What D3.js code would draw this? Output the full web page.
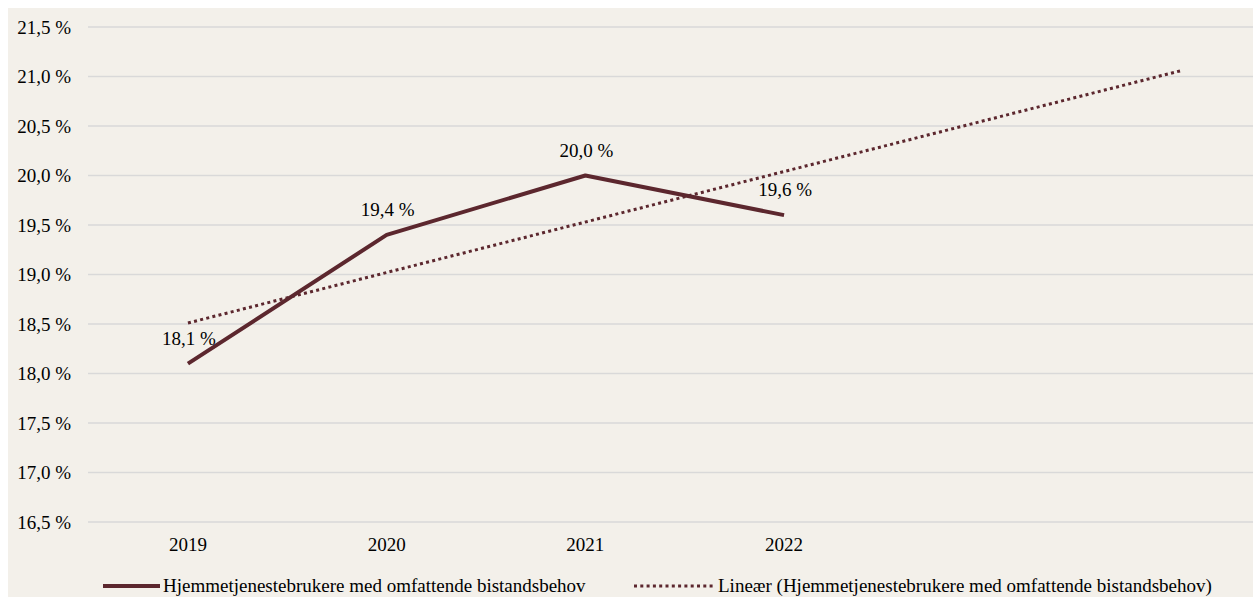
<!DOCTYPE html>
<html>
<head>
<meta charset="utf-8">
<script src="https://cdn.jsdelivr.net/npm/d3@7"></script>
<style>
  html, body { margin: 0; padding: 0; background: #fff; }
  svg { display: block; }
  text { font-family: "Liberation Serif", "Times New Roman", serif; fill: #000; }
</style>
</head>
<body>
<div id="chart"></div>
<script>
"use strict";

// --- data ---
const categories = ["2019", "2020", "2021", "2022", "2023", "2024"]
const tickLabels = ["2019", "2020", "2021", "2022", "", ""]
const seriesName = "Hjemmetjenestebrukere med omfattende bistandsbehov"
const seriesYears = ["2019", "2020", "2021", "2022"]
const seriesValues = [18.1, 19.4, 20.0, 19.6]
// linear trend (forecast 2 periods forward), endpoints
const trendYears = ["2019", "2024"]
const trendValues = [18.51, 21.06]
const yTicks = [16.5, 17.0, 17.5, 18.0, 18.5, 19.0, 19.5, 20.0, 20.5, 21.0, 21.5]

const W = 1253, H = 597
const color = "#5c272e"
const serif = "'Liberation Serif', 'Times New Roman', serif"
const fmt = v => d3.format(".1f")(v).replace(".", ",") + " %"

const svg = d3.select("#chart").append("svg")
    .attr("width", W)
    .attr("height", H)

svg.append("rect")
    .attr("x", 8).attr("y", 8)
    .attr("width", W - 8).attr("height", H - 8)
    .attr("fill", "#f3f0ea")

// plot area (extends past the right edge, like the cropped original)
const x = d3.scaleBand()
    .domain(categories)
    .range([88.6, 88.6 + 6 * 198.7])
const xc = d => x(d) + x.bandwidth() / 2

const y = d3.scaleLinear()
    .domain([16.5, 21.5])
    .range([522, 27])

// gridlines
svg.append("g")
    .selectAll("line")
    .data(yTicks)
    .enter().append("line")
    .attr("x1", 88).attr("x2", W)
    .attr("y1", d => y(d)).attr("y2", d => y(d))
    .attr("stroke", "#d9d9d9")
    .attr("stroke-width", 1.5)

// y axis labels
const yAxis = d3.axisLeft(y).tickValues(yTicks).tickFormat(fmt).tickSize(0).tickPadding(0)
const gy = svg.append("g")
    .attr("transform", "translate(71,0)")
    .call(yAxis)
gy.select(".domain").remove()
gy.selectAll("text")
    .style("font-family", serif)
    .style("font-size", "19px")
    .attr("fill", "#000")

// x axis labels
const xAxis = d3.axisBottom(x).tickFormat((d, i) => tickLabels[i]).tickSize(0).tickPadding(0)
const gx = svg.append("g")
    .attr("transform", "translate(0,538)")
    .call(xAxis)
gx.select(".domain").remove()
gx.selectAll("text")
    .style("font-family", serif)
    .style("font-size", "19px")
    .attr("fill", "#000")
    .attr("dy", "0.7em")

// trend line
const line = d3.line()
    .x(d => xc(d[0]))
    .y(d => y(d[1]))

svg.append("path")
    .datum(d3.zip(trendYears, trendValues))
    .attr("d", line)
    .attr("fill", "none")
    .attr("stroke", color)
    .attr("stroke-width", 3)
    .attr("stroke-dasharray", "3 3.3")

// series line
svg.append("path")
    .datum(d3.zip(seriesYears, seriesValues))
    .attr("d", line)
    .attr("fill", "none")
    .attr("stroke", color)
    .attr("stroke-width", 4)
    .attr("stroke-linejoin", "round")

// data labels
svg.append("g")
    .selectAll("text")
    .data(d3.zip(seriesYears, seriesValues))
    .enter().append("text")
    .attr("x", d => xc(d[0]) + 1)
    .attr("y", d => y(d[1]) - 19)
    .attr("text-anchor", "middle")
    .style("font-family", serif)
    .style("font-size", "19px")
    .text(d => fmt(d[1]))

// legend
const lg = svg.append("g").attr("transform", "translate(0,586)")
lg.append("line")
    .attr("x1", 103).attr("x2", 160)
    .attr("stroke", color).attr("stroke-width", 4)
lg.append("text")
    .attr("x", 163).attr("y", 6)
    .style("font-family", serif)
    .style("font-size", "19px")
    .text(seriesName)
lg.append("line")
    .attr("x1", 634).attr("x2", 714)
    .attr("stroke", color).attr("stroke-width", 3)
    .attr("stroke-dasharray", "3 3.3")
lg.append("text")
    .attr("x", 718).attr("y", 6)
    .style("font-family", serif)
    .style("font-size", "19px")
    .text("Lineær (" + seriesName + ")")
</script>
</body>
</html>
